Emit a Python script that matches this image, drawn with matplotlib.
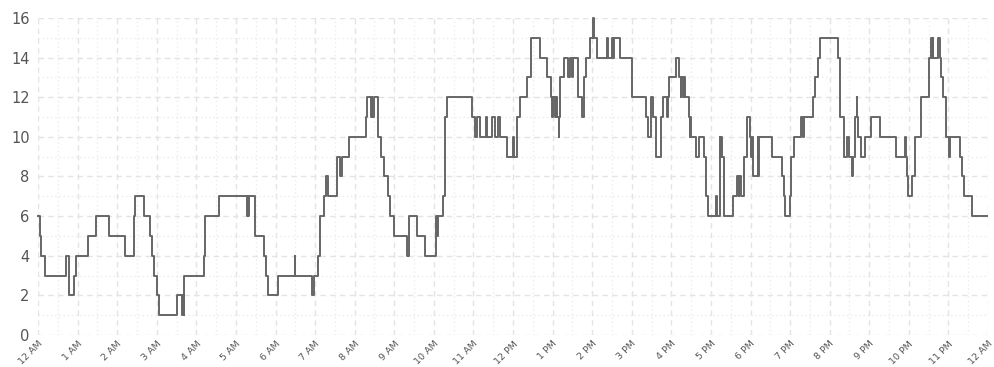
import numpy as np
import matplotlib
matplotlib.use("Agg")
import matplotlib.pyplot as plt

# minutes after midnight where the count changes, and the new count
change_minutes = [
    0, 3, 5, 11, 43, 47, 55, 58, 76, 88, 107, 132, 145, 147, 161, 169, 173, 176, 180, 183,
    211, 219, 220, 221, 222, 251, 253, 275, 317, 318, 319, 320, 329, 343, 346, 349, 364, 389, 390,
    415, 419, 424, 427, 433, 436, 439, 453, 457, 461, 471, 497, 499, 505, 506, 507, 509,
    516, 520, 524, 530, 533, 539, 560, 562, 575, 587, 603, 604, 605, 606, 614, 617, 620,
    658, 662, 665, 670, 679, 681, 688, 693, 697, 700, 711, 720, 722, 726, 731, 741, 747,
    761, 771, 777, 779, 781, 783, 785, 786, 789, 790, 791, 797, 804, 807, 809, 811, 818,
    825, 827, 831, 836, 841, 842, 848, 862, 864, 870, 872, 873, 882, 901, 922, 925, 929,
    932, 937, 945, 948, 954, 955, 956, 967, 972, 974, 975, 977, 979, 980, 986, 988, 989,
    990, 998, 1002, 1009, 1013, 1015, 1027, 1029, 1033, 1034, 1035, 1037, 1040, 1054,
    1060, 1062, 1063, 1066, 1070, 1075, 1079, 1081, 1082, 1083, 1084, 1091, 1092, 1093,
    1113, 1128, 1131, 1133, 1140, 1142, 1146, 1156, 1160, 1161, 1174, 1177, 1182, 1185,
    1212, 1216, 1222, 1226, 1229, 1234, 1236, 1239, 1241, 1242, 1243, 1247, 1253, 1263,
    1276, 1301, 1314, 1315, 1317, 1319, 1325, 1330, 1339, 1350, 1354, 1355, 1356, 1357,
    1364, 1367, 1368, 1372, 1376, 1381, 1382, 1398, 1401, 1403, 1415, 1438,
]
counts = [
    6, 5, 4, 3, 4, 2, 3, 4, 5, 6, 5, 4, 6, 7, 6, 5, 4, 3, 2, 1,
    2, 1, 2, 1, 3, 4, 6, 7, 6, 7, 6, 7, 5, 4, 3, 2, 3, 4, 3,
    2, 3, 4, 6, 7, 8, 7, 9, 8, 9, 10, 11, 12, 11, 12, 11, 12,
    10, 9, 8, 7, 6, 5, 4, 6, 5, 4, 5, 6, 5, 6, 7, 11, 12,
    11, 10, 11, 10, 11, 10, 11, 10, 11, 10, 9, 10, 9, 11, 12, 13, 15,
    14, 13, 12, 11, 12, 11, 12, 11, 10, 11, 13, 14, 13, 14, 13, 14, 12,
    11, 13, 14, 15, 16, 15, 14, 15, 14, 15, 14, 15, 14, 12, 11, 10, 12,
    11, 9, 11, 12, 11, 12, 13, 14, 13, 12, 13, 12, 13, 12, 11, 10, 11,
    10, 9, 10, 9, 7, 6, 7, 6, 10, 9, 10, 9, 6, 7,
    8, 7, 8, 7, 9, 11, 10, 9, 10, 9, 8, 10, 8, 10,
    9, 8, 7, 6, 7, 9, 10, 11, 10, 11, 12, 13, 14, 15,
    14, 11, 9, 10, 9, 8, 9, 11, 12, 11, 10, 9, 10, 11,
    10, 9, 10, 9, 8, 7, 8, 10, 12, 14, 15, 14, 15, 14,
    15, 14, 13, 12, 10, 9, 10, 9, 8, 7, 6, 6,
]
tick_labels = ["12 AM"] + [f"{h} AM" for h in range(1, 12)] + ["12 PM"] + \
              [f"{h} PM" for h in range(1, 12)] + ["12 AM"]

hours = np.array(change_minutes) / 60.0

fig = plt.figure(figsize=(9.95, 3.67), dpi=100)
ax = fig.add_axes([0.0382, 0.0872, 0.9548, 0.864])

ax.plot(hours, counts, drawstyle="steps-post", color="#666666", linewidth=1.4,
        clip_on=False, zorder=3)

ax.set_xlim(0, 24)
ax.set_ylim(0, 16)
ax.set_xticks(range(0, 25))
ax.set_xticklabels(tick_labels, rotation=45, ha="right", rotation_mode="anchor",
                   fontsize=6.8, color="#555555")
ax.set_xticks(np.arange(0.5, 24, 1), minor=True)
ax.set_yticks(range(0, 17, 2))
ax.set_yticks(range(1, 16, 2), minor=True)
ax.tick_params(axis="y", labelsize=10.5, labelcolor="#555555", pad=6)
ax.tick_params(axis="x", pad=3)
ax.tick_params(which="both", length=0)

ax.grid(which="major", color="#e4e4e4", linestyle=(0, (4, 3)), linewidth=1)
ax.grid(which="minor", color="#ececec", linestyle=(0, (1, 2)), linewidth=1)
ax.set_axisbelow(True)
for s in ax.spines.values():
    s.set_visible(False)

fig.savefig("out.png", dpi=100)
